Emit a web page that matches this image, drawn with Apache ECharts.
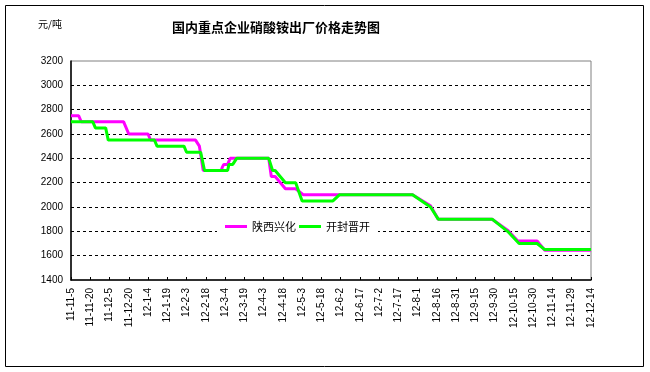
<!DOCTYPE html>
<html>
<head>
<meta charset="utf-8">
<script src="https://cdn.jsdelivr.net/npm/echarts@6/dist/echarts.min.js"></script>
<style>
html,body{margin:0;padding:0;background:#fff;}
#chart{width:650px;height:372px;}
</style>
</head>
<body>
<div id="chart"></div>
<script>
// ---- data ----
const titleText = '国内重点企业硝酸铵出厂价格走势图';
const unitText = '元/吨';
const seriesNames = ['陕西兴化', '开封晋开'];
const axisStart = '2011-11-05';
const axisEnd = '2012-12-14';
const tickStepDays = 15;
const yMin = 1400, yMax = 3200, yStep = 200;

const xhDates = ['2011-11-05','2011-11-11','2011-11-13','2011-12-16','2011-12-20','2012-01-04','2012-01-06',
  '2012-02-10','2012-02-13','2012-02-16','2012-03-01','2012-03-02','2012-03-03','2012-03-06','2012-03-08',
  '2012-04-07','2012-04-09','2012-04-12','2012-04-20','2012-04-28','2012-05-04','2012-07-28','2012-08-11',
  '2012-08-17','2012-09-28','2012-10-10','2012-10-18','2012-11-02','2012-11-08','2012-12-14'];
const xhValues = [2750,2750,2700,2700,2600,2600,2550,
  2550,2500,2300,2300,2330,2350,2350,2400,
  2400,2250,2250,2150,2150,2100,2100,2010,
  1900,1900,1810,1720,1720,1645,1645];

const jkDates = ['2011-11-05','2011-11-22','2011-11-24','2011-12-02','2011-12-04','2012-01-09','2012-01-11',
  '2012-02-01','2012-02-03','2012-02-14','2012-02-17','2012-03-06','2012-03-07','2012-03-10','2012-03-13',
  '2012-04-07','2012-04-10','2012-04-12','2012-04-20','2012-04-28','2012-05-03','2012-05-27','2012-06-01',
  '2012-07-28','2012-08-11','2012-08-17','2012-09-28','2012-10-10','2012-10-19','2012-11-02','2012-11-08','2012-12-14'];
const jkValues = [2700,2700,2650,2650,2550,2550,2500,
  2500,2450,2450,2300,2300,2350,2350,2400,
  2400,2300,2300,2200,2200,2050,2050,2100,
  2100,2000,1900,1900,1800,1700,1700,1650,1650];

// ---- helpers ----
const DAY = 86400000;
function toUTC(s){ const p = s.split('-').map(Number); return Date.UTC(p[0], p[1]-1, p[2]); }
const base = toUTC(axisStart);
const dayOf = s => (toUTC(s) - base) / DAY;
function fmt(v){
  const d = new Date(base + v * DAY);
  return String(d.getUTCFullYear()).slice(2) + '-' + (d.getUTCMonth()+1) + '-' + d.getUTCDate();
}
const pairs = (ds, vs) => ds.map((d, i) => [dayOf(d), vs[i]]);

const chart = echarts.init(document.getElementById('chart'));
chart.setOption({
  animation: false,
  backgroundColor: '#fff',
  title: {
    text: titleText,
    left: 167, top: 16,
    textStyle: { fontSize: 13, fontWeight: 'bold', color: '#000', fontFamily: 'Noto Sans CJK SC' }
  },
  graphic: [
    { type: 'rect', shape: { x: 5.5, y: 5.5, width: 638, height: 361 },
      style: { fill: 'none', stroke: '#000', lineWidth: 1 }, silent: true, z: 0 },
    { type: 'text', left: 38, top: 19,
      style: { text: unitText, fontSize: 10, fill: '#000', fontFamily: 'Noto Sans CJK SC' } }
  ],
  legend: {
    data: seriesNames,
    left: 217, top: 217,
    padding: [4, 8, 4, 8],
    backgroundColor: '#fff',
    icon: 'rect', itemWidth: 22, itemHeight: 3, itemGap: 3,
    textStyle: { fontSize: 11, color: '#000', fontFamily: 'Noto Sans CJK SC' },
    z: 10
  },
  grid: {
    left: 71, right: 59, top: 61, bottom: 92,
    show: true, borderColor: '#808080', borderWidth: 1, backgroundColor: 'transparent'
  },
  xAxis: {
    type: 'value',
    min: 0, max: dayOf(axisEnd), interval: tickStepDays,
    axisLine: { lineStyle: { color: '#000', width: 1.5 } },
    axisTick: { inside: true, length: 3, lineStyle: { color: '#000' } },
    axisLabel: { rotate: 90, margin: 8, fontSize: 10, color: '#000', fontFamily: 'Liberation Sans',
      formatter: fmt, showMinLabel: true, showMaxLabel: true },
    splitLine: { show: false }
  },
  yAxis: {
    type: 'value',
    min: yMin, max: yMax, interval: yStep,
    axisLine: { show: true, lineStyle: { color: '#000', width: 1.5 } },
    axisTick: { show: false },
    axisLabel: { margin: 8, fontSize: 10, color: '#000', fontFamily: 'Liberation Sans',
      formatter: v => String(v) },
    splitLine: { show: true, showMaxLine: false, showMinLine: false,
      lineStyle: { color: '#000', type: [3, 3], width: 1 } }
  },
  series: [
    { name: seriesNames[0], type: 'line', data: pairs(xhDates, xhValues),
      showSymbol: false, symbol: 'none', lineStyle: { color: '#FF00FF', width: 3 }, itemStyle: { color: '#FF00FF' }, z: 3 },
    { name: seriesNames[1], type: 'line', data: pairs(jkDates, jkValues),
      showSymbol: false, symbol: 'none', lineStyle: { color: '#00FF00', width: 3 }, itemStyle: { color: '#00FF00' }, z: 4 }
  ]
});
</script>
</body>
</html>
